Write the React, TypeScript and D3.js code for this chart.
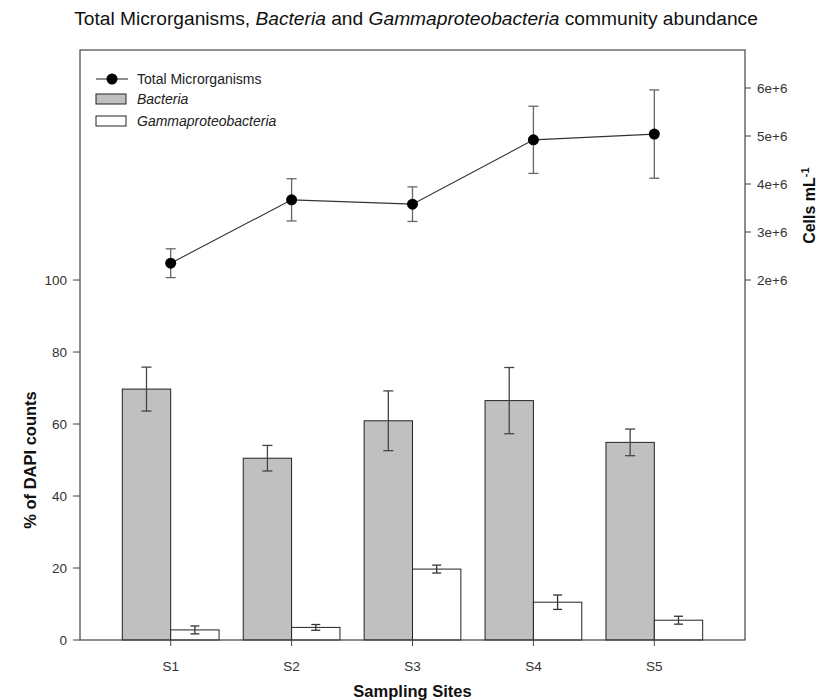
import React from "react";
import * as d3 from "d3";

// Sampling sites and measured values
const sites = ["S1", "S2", "S3", "S4", "S5"];
const totalCells = [2.35e6, 3.67e6, 3.58e6, 4.92e6, 5.04e6];
const totalCellsErr = [0.3e6, 0.44e6, 0.36e6, 0.7e6, 0.92e6];
const bacteriaPct = [69.7, 50.5, 60.9, 66.5, 54.9];
const bacteriaErr = [6.1, 3.55, 8.3, 9.2, 3.7];
const gammaPct = [2.8, 3.5, 19.7, 10.5, 5.5];
const gammaErr = [1.1, 0.8, 1.1, 2.0, 1.1];
const leftTicks = [0, 20, 40, 60, 80, 100];
const rightTicks = [2e6, 3e6, 4e6, 5e6, 6e6];

const W = 821;
const H = 700;
const FONT = "'Liberation Sans', Arial, sans-serif";
const plot = { left: 80, right: 745, top: 50, bottom: 640 };

export default function App() {
  const x = d3
    .scalePoint<string>()
    .domain(sites)
    .range([plot.left, plot.right])
    .padding(0.75);
  const step = x.step();
  const barW = step * 0.4;

  const yPct = d3.scaleLinear().domain([0, 163.9]).range([plot.bottom, plot.top]);
  const yCells = d3
    .scaleLinear()
    .domain([-5.5e6, 6.7917e6])
    .range([plot.bottom, plot.top]);

  const fmtE = (v: number) => `${v / 1e6}e+6`;

  const line = d3
    .line<number>()
    .x((_, i) => x(sites[i]) as number)
    .y((d) => yCells(d));

  const errBar = (
    cx: number,
    y1: number,
    y2: number,
    color: string,
    key: string,
    cap = 5
  ) => (
    <g key={key} stroke={color} strokeWidth={1.3} fill="none">
      <line x1={cx} x2={cx} y1={y1} y2={y2} />
      <line x1={cx - cap} x2={cx + cap} y1={y1} y2={y1} />
      <line x1={cx - cap} x2={cx + cap} y1={y2} y2={y2} />
    </g>
  );

  return (
    <svg width={W} height={H} style={{ display: "block", position: "absolute", left: 0, top: 0 }} fontFamily={FONT}>
      <rect width={W} height={H} fill="#fff" />
      {/* Title */}
      <text x={416} y={25} textAnchor="middle" fontSize={19.2} fill="#111">
        Total Microrganisms, <tspan fontStyle="italic">Bacteria</tspan> and{" "}
        <tspan fontStyle="italic">Gammaproteobacteria</tspan> community abundance
      </text>

      {/* Bars */}
      {sites.map((s, i) => {
        const cx = x(s) as number;
        return (
          <g key={s}>
            <rect
              x={cx - barW}
              y={yPct(bacteriaPct[i])}
              width={barW}
              height={yPct(0) - yPct(bacteriaPct[i])}
              fill="#c0c0c0"
              stroke="#222"
              strokeWidth={1}
            />
            <rect
              x={cx}
              y={yPct(gammaPct[i])}
              width={barW}
              height={yPct(0) - yPct(gammaPct[i])}
              fill="#fff"
              stroke="#222"
              strokeWidth={1}
            />
            {errBar(
              cx - barW / 2,
              yPct(bacteriaPct[i] + bacteriaErr[i]),
              yPct(bacteriaPct[i] - bacteriaErr[i]),
              "#444",
              "be" + s
            )}
            {errBar(
              cx + barW / 2,
              yPct(gammaPct[i] + gammaErr[i]),
              yPct(gammaPct[i] - gammaErr[i]),
              "#333",
              "ge" + s,
              4.5
            )}
          </g>
        );
      })}

      {/* Total microorganisms line */}
      {sites.map((s, i) =>
        errBar(
          x(s) as number,
          yCells(totalCells[i] + totalCellsErr[i]),
          yCells(totalCells[i] - totalCellsErr[i]),
          "#666",
          "te" + s
        )
      )}
      <path d={line(totalCells) || ""} fill="none" stroke="#333" strokeWidth={1.1} />
      {sites.map((s, i) => (
        <circle key={"c" + s} cx={x(s) as number} cy={yCells(totalCells[i])} r={5.5} fill="#000" />
      ))}

      {/* Frame */}
      <rect
        x={plot.left}
        y={plot.top}
        width={plot.right - plot.left}
        height={plot.bottom - plot.top}
        fill="none"
        stroke="#444"
        strokeWidth={1.2}
      />

      {/* Left axis */}
      {leftTicks.map((t) => (
        <g key={"l" + t} transform={`translate(${plot.left},${yPct(t)})`}>
          <line x1={-7} x2={0} stroke="#444" />
          <text x={-13} dy="0.35em" textAnchor="end" fontSize={13.5} fill="#333">
            {t}
          </text>
        </g>
      ))}
      <text
        transform={`translate(30,${yPct(50)}) rotate(-90)`}
        textAnchor="middle"
        dy="0.35em"
        fontSize={16.5}
        fontWeight="bold"
        fill="#111"
      >
        % of DAPI counts
      </text>

      {/* Right axis */}
      {rightTicks.map((t) => (
        <g key={"r" + t} transform={`translate(${plot.right},${yCells(t)})`}>
          <line x1={0} x2={6} stroke="#444" />
          <text x={12} dy="0.35em" textAnchor="start" fontSize={13.5} fill="#333">
            {fmtE(t)}
          </text>
        </g>
      ))}
      <text
        transform={`translate(809,${yCells(3.55e6)}) rotate(-90)`}
        textAnchor="middle"
        dy="0.35em"
        fontSize={16}
        fontWeight="bold"
        fill="#111"
      >
        Cells mL
        <tspan dy="-0.55em" fontSize={11}>
          -1
        </tspan>
      </text>

      {/* Bottom axis */}
      {sites.map((s) => (
        <g key={"b" + s} transform={`translate(${x(s)},${plot.bottom})`}>
          <line y1={0} y2={6} stroke="#444" />
          <text y={31} textAnchor="middle" fontSize={13.5} fill="#333">
            {s}
          </text>
        </g>
      ))}
      <text x={(plot.left + plot.right) / 2} y={697} textAnchor="middle" fontSize={16.5} fontWeight="bold" fill="#111">
        Sampling Sites
      </text>

      {/* Legend */}
      <g fontSize={14} fill="#222">
        <line x1={96} x2={128} y1={79} y2={79} stroke="#333" strokeWidth={1.1} />
        <circle cx={112} cy={79} r={5.5} fill="#000" />
        <text x={137} y={79} dy="0.35em">Total Microrganisms</text>
        <rect x={96} y={94} width={30} height={10} fill="#c0c0c0" stroke="#222" />
        <text x={137} y={99} dy="0.35em" fontStyle="italic">Bacteria</text>
        <rect x={96} y={116} width={30} height={10} fill="#fff" stroke="#222" />
        <text x={137} y={121} dy="0.35em" fontStyle="italic">Gammaproteobacteria</text>
      </g>
    </svg>
  );
}
